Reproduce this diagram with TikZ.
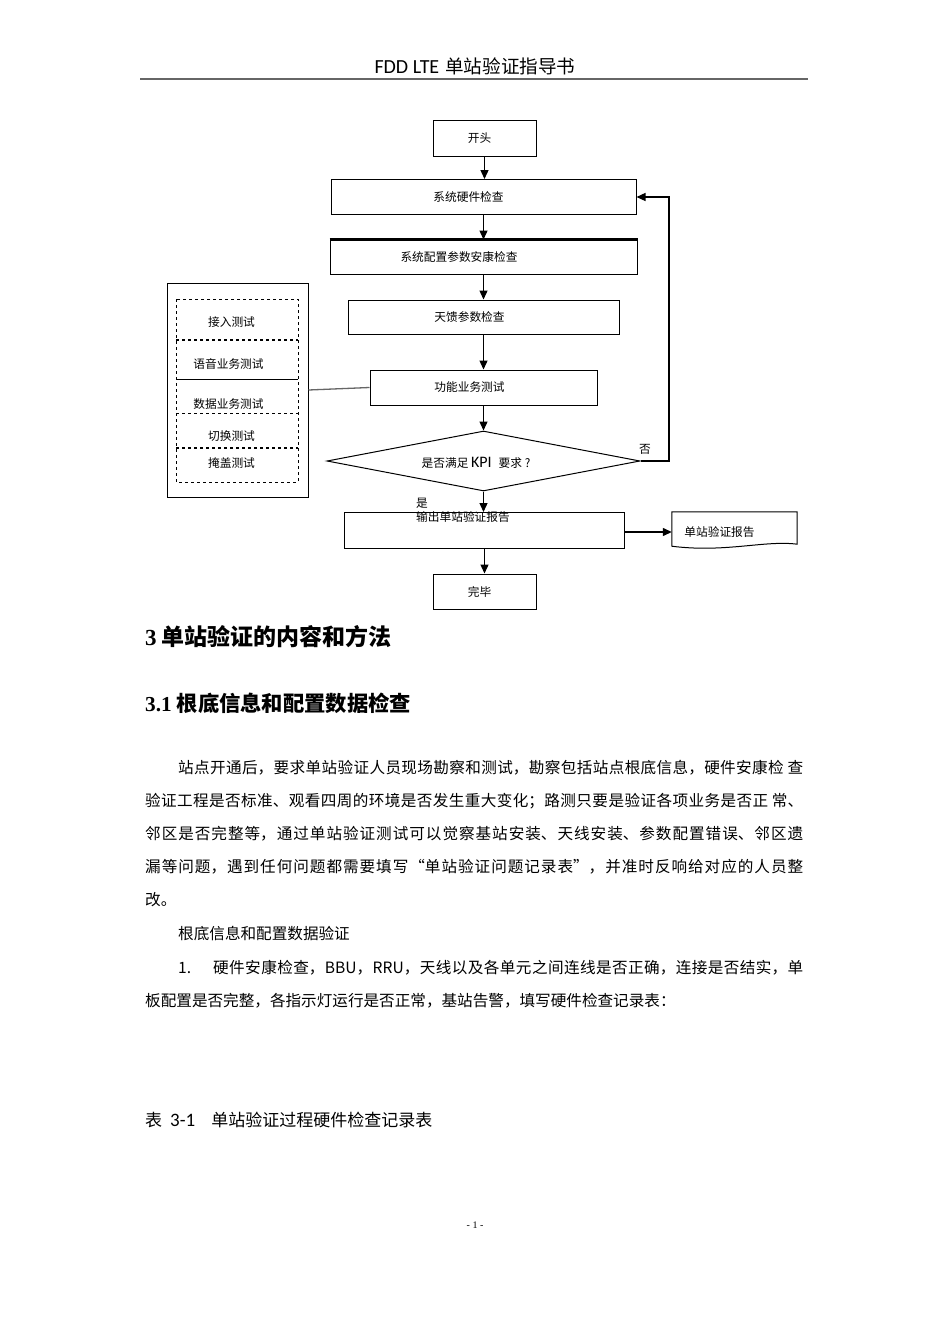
\documentclass[tikz,border=0pt]{standalone}
\usepackage{fontspec}
\newfontfamily\cjk{Noto Sans CJK SC}
\newfontfamily\carl{Carlito}
\setmainfont{Liberation Serif}
\usetikzlibrary{arrows.meta,shapes.geometric,calc}
\newcommand{\fsz}[1]{\fontsize{#1}{#1}\selectfont}
\newcommand{\jline}[2]{\parbox{#1}{\XeTeXlinebreaklocale "zh"\XeTeXlinebreakskip=0pt plus 2pt\relax\tolerance=10000\parfillskip=0pt\relax #2}}
\newcommand{\lsh}[2]{\hspace*{-#1}#2}
\begin{document}
\begin{tikzpicture}[x=1pt,y=-1pt,
  fc/.style={draw, line width=1pt, inner sep=0pt, font=\cjk\fsz{11.7}},
  lbl/.style={inner sep=0pt, font=\cjk\fsz{11.7}},
  arr/.style={line width=1.3pt, -{Triangle[length=9pt,width=8pt]}},
  body/.style={inner sep=0pt, anchor=west, font=\cjk\fsz{15.6}},
  head/.style={inner sep=0pt, anchor=west, font=\cjk\bfseries\fsz{21.3}}]
\useasboundingbox (0,0) rectangle (950,1344);
\fill[white] (0,0) rectangle (950,1344);

% page header
\node[inner sep=0pt] (hdr) at (475,66) {{\carl\fsz{20}FDD LTE}\hspace{6pt}{\cjk\fsz{18.6}单站验证指导书}};
\draw[line width=2pt, black!60] (140,79) -- (808,79);

% flowchart
\node[fc, minimum width=103pt, minimum height=36pt] (start) at (484.5,138) {\lsh{10pt}{开头}};
\node[fc, minimum width=305pt, minimum height=35pt] (hw) at (483.5,197) {\lsh{30pt}{系统硬件检查}};
\node[fc, minimum width=307pt, minimum height=34pt] (cfg) at (483.5,257) {\lsh{49pt}{系统配置参数安康检查}};
\draw[line width=2.2pt] (cfg.north west) -- (cfg.north east);
\node[fc, minimum width=271pt, minimum height=34pt] (ant) at (483.5,317) {\lsh{28pt}{天馈参数检查}};
\node[fc, minimum width=227pt, minimum height=35pt] (func) at (483.5,387.5) {\lsh{28pt}{功能业务测试}};
\node[diamond, draw, line width=1pt, inner sep=0pt, minimum width=313pt, minimum height=60pt] (dec) at (483.5,461) {};
\node[lbl] (kpi) at (476,463) {是否满足 {\carl\fsz{16}KPI}\hspace{7pt}要求 ?};
\node[lbl] (no) at (645,449) {否};
\node[fc, minimum width=280pt, minimum height=36pt] (out) at (484,530.5) {};
\node[lbl] (yes) at (422,503) {是};
\node[lbl, anchor=west] (outtxt) at (416,517) {输出单站验证报告};
\node[fc, minimum width=103pt, minimum height=35pt] (end) at (484.5,591.5) {\lsh{10pt}{完毕}};

% document shape
\node[inner sep=0pt, minimum width=125pt, minimum height=34pt] (rep) at (734.5,529) {};
\draw[line width=1pt] (rep.north west) -- (rep.north east) -- ($(rep.south east)+(0,-2)$)
  .. controls (765,540) and (725,553) .. (rep.south west) -- cycle;
\node[lbl] (reptxt) at (719.5,532) {单站验证报告};

% arrows
\draw[arr] (start) -- (start |- hw.north);
\draw[arr] (hw) -- (hw |- cfg.north);
\draw[arr] (cfg) -- (cfg |- ant.north);
\draw[arr] (ant) -- (ant |- func.north);
\draw[arr] (func) -- (func |- dec.north);
\draw[arr] (dec.south) -- (dec.south |- out.north);
\draw[arr] (out.south -| end) -- (end.north);
\draw[arr] (out.east |- reptxt) -- (rep.west |- reptxt);
\coordinate (fb) at (669,197);
\draw[arr] (dec.east) -| (fb) -- (hw.east);

% test group
\node[draw, line width=1pt, inner sep=0pt, minimum width=141pt, minimum height=214pt] (tests) at (237.5,390) {};
\draw[dashed, line width=0.9pt] (176,299) rectangle (298,482);
\draw[dashed, line width=1.5pt] (176,340) -- (298,340);
\draw[line width=1pt] (176,379) -- (298,379);
\draw[dashed, line width=0.9pt] (176,413) -- (298,413);
\draw[dashed, line width=1.5pt] (176,448) -- (298,448);
\node[lbl] (t1) at (231.5,322) {接入测试};
\node[lbl] (t2) at (228.5,364) {语音业务测试};
\node[lbl] (t3) at (228.5,404) {数据业务测试};
\node[lbl] (t4) at (231.5,436) {切换测试};
\node[lbl] (t5) at (231.5,463) {掩盖测试};
\draw[line width=1.3pt, black!60] (tests.east) -- (func.west);

% text body
\node[head, font=\cjk\bfseries\fsz{23}] (h1) at (145,637) {{\fontspec{Liberation Serif}\bfseries 3} 单站验证的内容和方法};
\node[head] (h2) at (145,703) {{\fontspec{Liberation Serif}\bfseries 3.1} 根底信息和配置数据检查};

\node[body] (p1) at (178,768) {\jline{625pt}{站点开通后，要求单站验证人员现场勘察和测试，勘察包括站点根底信息，硬件安康检 查}};
\node[body] (p2) at (145,801) {\jline{658pt}{验证工程是否标准、观看四周的环境是否发生重大变化；路测只要是验证各项业务是否正 常、}};
\node[body] (p3) at (145,834) {\jline{658pt}{邻区是否完整等，通过单站验证测试可以觉察基站安装、天线安装、参数配置错误、邻区遗}};
\node[body] (p4) at (145,867) {\jline{658pt}{漏等问题，遇到任何问题都需要填写“单站验证问题记录表”，并准时反响给对应的人员整}};
\node[body] (p5) at (145,900) {改。};
\node[body] (p6) at (178,934) {根底信息和配置数据验证};
\node[body] (p7a) at (178,968) {1.};
\node[body] (p7) at (213,968) {\jline{590pt}{硬件安康检查，BBU，RRU，天线以及各单元之间连线是否正确，连接是否结实，单}};
\node[body] (p8) at (145,1001) {板配置是否完整，各指示灯运行是否正常，基站告警，填写硬件检查记录表：};
\node[body, font=\cjk\fsz{17}] (cap) at (145,1120) {表\hspace{8pt}{\carl\fsz{19}3-1}\hspace{16pt}单站验证过程硬件检查记录表};
\node[inner sep=0pt, font=\fsz{10}] (pg) at (475,1225) {- 1 -};
\end{tikzpicture}
\end{document}
